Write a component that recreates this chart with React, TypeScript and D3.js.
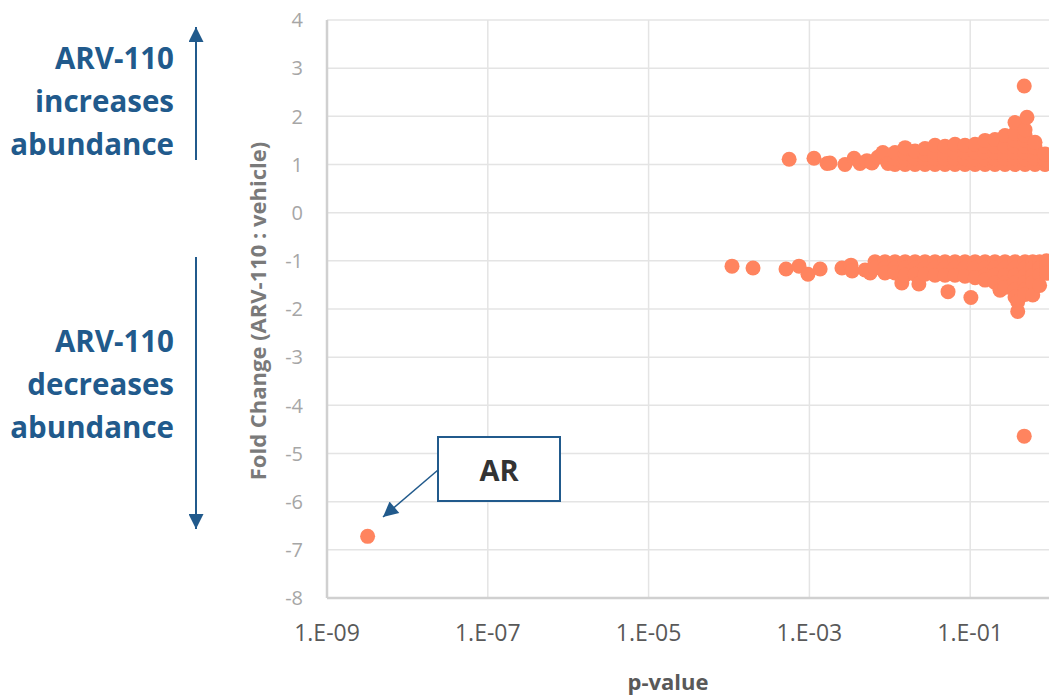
import { scaleLinear, scaleLog } from 'd3';

// p-value / fold change pairs
const upregulated: [number, number][] = [
  [5.6e-4, 1.11], [1.14e-3, 1.13], [1.66e-3, 1.02], [1.8e-3, 1.03], [2.77e-3, 1.0],
  [3.59e-3, 1.13], [4.26e-3, 1.02], [5.2e-3, 1.08], [6.0e-3, 1.03], [7.1e-3, 1.15],
  [8.2e-3, 1.25], [9.5e-3, 1.02],
  [1.16e-2, 1.0], [1.16e-2, 1.12], [1.16e-2, 1.25],
  [1.55e-2, 1.0], [1.55e-2, 1.12], [1.55e-2, 1.24], [1.55e-2, 1.35],
  [2.06e-2, 1.0], [2.06e-2, 1.12], [2.06e-2, 1.28],
  [2.74e-2, 1.0], [2.74e-2, 1.12], [2.74e-2, 1.22], [2.74e-2, 1.33],
  [3.65e-2, 1.0], [3.65e-2, 1.12], [3.65e-2, 1.25], [3.65e-2, 1.4],
  [4.86e-2, 1.0], [4.86e-2, 1.12], [4.86e-2, 1.25], [4.86e-2, 1.38],
  [6.47e-2, 1.0], [6.47e-2, 1.12], [6.47e-2, 1.25], [6.47e-2, 1.42],
  [8.61e-2, 1.0], [8.61e-2, 1.12], [8.61e-2, 1.25], [8.61e-2, 1.4],
  [1.15e-1, 1.0], [1.15e-1, 1.12], [1.15e-1, 1.25], [1.15e-1, 1.42],
  [1.53e-1, 1.0], [1.53e-1, 1.12], [1.53e-1, 1.25], [1.53e-1, 1.38], [1.53e-1, 1.5],
  [2.03e-1, 1.0], [2.03e-1, 1.12], [2.03e-1, 1.25], [2.03e-1, 1.38], [2.03e-1, 1.52],
  [2.71e-1, 1.0], [2.71e-1, 1.12], [2.71e-1, 1.25], [2.71e-1, 1.38], [2.71e-1, 1.6],
  [3.61e-1, 1.0], [3.61e-1, 1.12], [3.61e-1, 1.25], [3.61e-1, 1.38], [3.61e-1, 1.5],
  [3.61e-1, 1.65], [3.61e-1, 1.87],
  [4.81e-1, 1.0], [4.81e-1, 1.12], [4.81e-1, 1.25], [4.81e-1, 1.38], [4.81e-1, 1.5],
  [4.81e-1, 1.6], [4.81e-1, 1.72], [5.08e-1, 1.98],
  [6.4e-1, 1.0], [6.4e-1, 1.12], [6.4e-1, 1.25], [6.4e-1, 1.35], [6.4e-1, 1.46],
  [8.5e-1, 1.0], [8.5e-1, 1.1], [8.5e-1, 1.22],
  [4.7e-1, 2.63],
];

const downregulated: [number, number][] = [
  [1.09e-4, -1.11], [1.99e-4, -1.15], [5.12e-4, -1.17], [7.43e-4, -1.11], [9.6e-4, -1.28],
  [1.36e-3, -1.17], [2.54e-3, -1.15], [3.29e-3, -1.09], [3.4e-3, -1.21], [4.92e-3, -1.19],
  [5.7e-3, -1.25], [6.9e-3, -1.06],
  [6.55e-3, -1.02], [6.55e-3, -1.15], [8.71e-3, -1.02], [8.71e-3, -1.15], [8.71e-3, -1.25],
  [1.16e-2, -1.02], [1.16e-2, -1.15], [1.16e-2, -1.25], [1.41e-2, -1.46],
  [1.55e-2, -1.02], [1.55e-2, -1.15], [1.55e-2, -1.3],
  [2.06e-2, -1.02], [2.06e-2, -1.15], [2.06e-2, -1.28], [2.3e-2, -1.48],
  [2.74e-2, -1.02], [2.74e-2, -1.15], [2.74e-2, -1.28],
  [3.65e-2, -1.02], [3.65e-2, -1.15], [3.65e-2, -1.3],
  [4.86e-2, -1.02], [4.86e-2, -1.15], [4.86e-2, -1.3], [5.3e-2, -1.64],
  [6.47e-2, -1.02], [6.47e-2, -1.15], [6.47e-2, -1.3],
  [8.61e-2, -1.02], [8.61e-2, -1.15], [8.61e-2, -1.32], [1.02e-1, -1.76],
  [1.15e-1, -1.02], [1.15e-1, -1.15], [1.15e-1, -1.35],
  [1.53e-1, -1.02], [1.53e-1, -1.15], [1.53e-1, -1.3], [1.53e-1, -1.4],
  [2.03e-1, -1.02], [2.03e-1, -1.15], [2.03e-1, -1.3], [2.03e-1, -1.45], [2.35e-1, -1.61],
  [2.71e-1, -1.02], [2.71e-1, -1.15], [2.71e-1, -1.3], [2.71e-1, -1.45], [2.71e-1, -1.55],
  [3.61e-1, -1.02], [3.61e-1, -1.15], [3.61e-1, -1.3], [3.61e-1, -1.45], [3.61e-1, -1.6],
  [3.61e-1, -1.75], [3.9e-1, -1.85], [3.9e-1, -2.05],
  [4.81e-1, -1.02], [4.81e-1, -1.15], [4.81e-1, -1.3], [4.81e-1, -1.45], [4.81e-1, -1.6],
  [4.81e-1, -1.7],
  [6.0e-1, -1.02], [6.0e-1, -1.15], [6.0e-1, -1.3], [6.0e-1, -1.45], [6.0e-1, -1.71],
  [7.3e-1, -1.02], [7.3e-1, -1.15], [7.3e-1, -1.3], [7.3e-1, -1.51],
  [8.9e-1, -1.0], [8.9e-1, -1.12], [8.9e-1, -1.26],
  [4.7e-1, -4.64],
];

// the labelled protein
const arPoint: [number, number] = [3.2e-9, -6.72];

// the 1.E+01 tick falls outside the visible picture
const xTicks = [1e-9, 1e-7, 1e-5, 1e-3, 1e-1];
const xTickLabels = ['1.E-09', '1.E-07', '1.E-05', '1.E-03', '1.E-01'];
const yTicks = [4, 3, 2, 1, 0, -1, -2, -3, -4, -5, -6, -7, -8];

const upLabel = ['ARV-110', 'increases', 'abundance'];
const downLabel = ['ARV-110', 'decreases', 'abundance'];

export default function App() {
  const width = 1049,
    height = 695,
    left = 327,
    top = 20,
    bottom = 598,
    decade = 80.4;

  const x = scaleLog()
    .domain([1e-9, 10])
    .range([left, left + decade * 10]);
  const y = scaleLinear().domain([-8, 4]).range([bottom, top]);

  const font = '"Open Sans", sans-serif';
  const blue = '#215a8c';
  const dot = '#ff845f';
  const r = 7.5;

  const allPoints = [...upregulated, ...downregulated, arPoint];

  return (
    <svg
      width={width}
      height={height}
      style={{ position: 'absolute', left: 0, top: 0, background: 'white' }}
      fontFamily={font}
    >
      <defs>
        <marker
          id="head"
          viewBox="0 0 10 10"
          refX="10"
          refY="5"
          markerWidth="17"
          markerHeight="15"
          markerUnits="userSpaceOnUse"
          orient="auto"
        >
          <path d="M0,0 L10,5 L0,10 z" fill={blue} />
        </marker>
      </defs>

      {/* grid */}
      <g stroke="#e4e4e4" strokeWidth={1.5}>
        {yTicks
          .filter((t) => t !== -8)
          .map((t) => (
            <line key={t} x1={left} x2={width} y1={y(t)} y2={y(t)} />
          ))}
        {xTicks.slice(1).map((t) => (
          <line key={t} x1={x(t)} x2={x(t)} y1={top} y2={bottom} />
        ))}
      </g>

      {/* axis lines */}
      <g stroke="#d0d0d0" strokeWidth={2.5}>
        <line x1={left} x2={width} y1={bottom} y2={bottom} />
        <line x1={left} x2={left} y1={top} y2={bottom} />
      </g>

      {/* tick labels */}
      <g fontSize={20} fill="#a6a6a6" textAnchor="end">
        {yTicks.map((t) => (
          <text key={t} x={303} y={y(t)} dy="0.36em">
            {t}
          </text>
        ))}
      </g>
      <g fontSize={23} fill="#595959" textAnchor="middle">
        {xTicks.map((t, i) => (
          <text key={t} x={x(t)} y={641}>
            {xTickLabels[i]}
          </text>
        ))}
      </g>

      {/* axis titles */}
      <text
        transform={`translate(258,311) rotate(-90)`}
        textAnchor="middle"
        dy="0.36em"
        fontSize={22}
        fontWeight={700}
        fill="#7a7a7a"
      >
        Fold Change (ARV-110 : vehicle)
      </text>
      <text x={668} y={690} textAnchor="middle" fontSize={22} fontWeight={700} fill="#595959">
        p-value
      </text>

      {/* points */}
      <g fill={dot}>
        {allPoints.map((d, i) => (
          <circle key={i} cx={x(d[0])} cy={y(d[1])} r={r} />
        ))}
      </g>

      {/* callout */}
      <rect x={438} y={437} width={122} height={64} fill="white" stroke={blue} strokeWidth={2} />
      <text x={499} y={481} textAnchor="middle" fontSize={29} fontWeight={700} fill="#333333">
        AR
      </text>
      <line x1={438} y1={470} x2={383} y2={517} stroke={blue} strokeWidth={1.5} markerEnd="url(#head)" />

      {/* side notes */}
      <g fontSize={29.5} fontWeight={700} fill={blue} textAnchor="end">
        {upLabel.map((s, i) => (
          <text key={'u' + i} x={174} y={69 + i * 43}>
            {s}
          </text>
        ))}
        {downLabel.map((s, i) => (
          <text key={'d' + i} x={174} y={352 + i * 43}>
            {s}
          </text>
        ))}
      </g>
      <line x1={196} y1={160} x2={196} y2={27} stroke={blue} strokeWidth={2} markerEnd="url(#head)" />
      <line x1={196} y1={257} x2={196} y2={529} stroke={blue} strokeWidth={2} markerEnd="url(#head)" />
    </svg>
  );
}
